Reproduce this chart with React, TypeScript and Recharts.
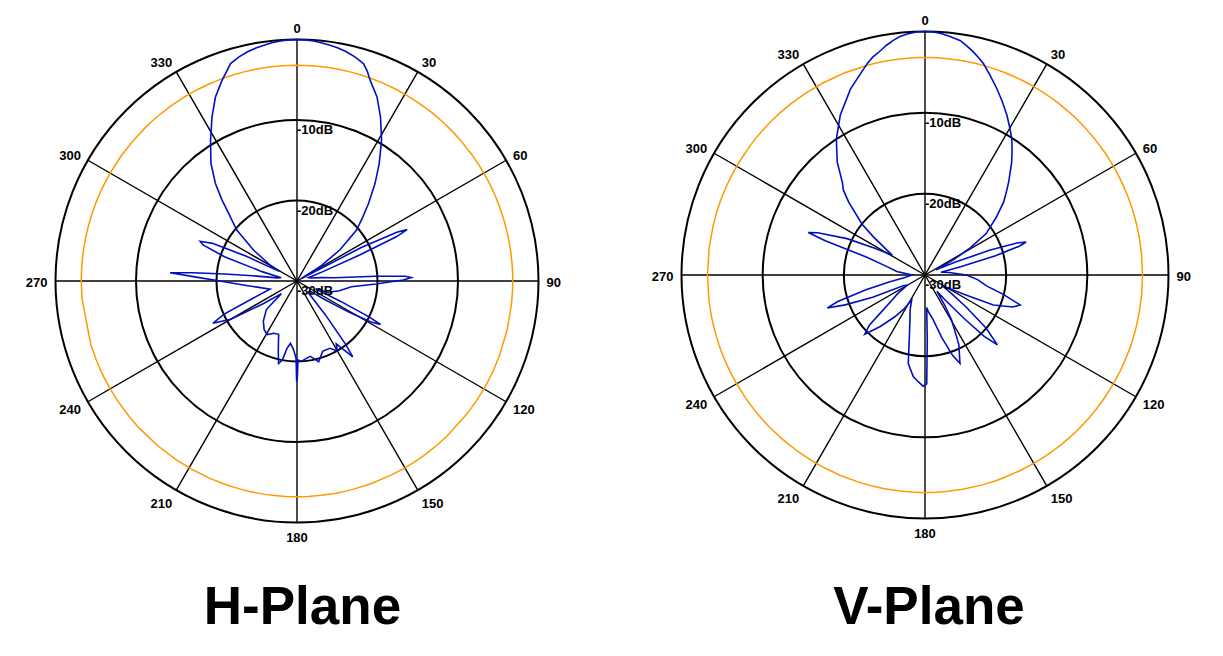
import React from 'react';
import { RadarChart, Radar, PolarGrid, PolarAngleAxis, PolarRadiusAxis } from 'recharts';

const angleTicks = [0, 30, 60, 90, 120, 150, 180, 210, 240, 270, 300, 330];
const radiusTicks = [-30, -20, -10, 0];
const halfPowerDb = -3.2;
const titles = ['H-Plane', 'V-Plane'];

const hAngles = [
  0, 2, 4, 6, 8, 10, 12, 14.5, 17, 18.5, 20, 23.5, 27, 31, 35, 38.7, 42.7, 46, 49.5, 54, 58, 60.5,
  62.5, 64, 65, 66, 67.5, 70, 74, 78,
  82, 85, 86.5, 87.5, 88.3, 89.5, 92.2, 96, 103, 110, 113,
  115, 116.5, 117.5, 119, 121, 124, 128,
  136, 140, 142.5, 143.7, 145.5, 148, 150, 154, 160, 165, 167.5, 170, 173.5, 177, 179.3, 179.8, 180.2, 180.7,
  183, 186, 188.5, 190.5, 192.6, 195, 199, 204, 209, 214, 220, 227, 231,
  236, 240, 243.3, 245.5, 248.5, 253, 265.4, 270, 272.3, 273.7, 274.5, 275.5, 277, 279, 281.5,
  285, 288.5, 291, 292.3, 294, 296, 298.5,
  300.7, 305.4, 310.2, 315.4, 317.2, 320.1, 323.8, 328.4, 332.6, 336.1, 339.5, 341.5, 343, 345.5, 347.7, 350, 352, 354, 356, 358,
];
const hGain = [
  0, -0.03, -0.12, -0.27, -0.43, -0.62, -0.85, -1.25, -1.75, -2.5, -3.45, -5.07, -7.15, -9.6, -12.2, -14.5, -16.9, -18.7, -20.3, -23.4, -26.6, -29.3,
  -21, -16.2, -14.9, -16.5, -21.5, -26.5, -28.5, -28.2,
  -27, -25.3, -20.2, -16.5, -15.8, -16.8, -20.2, -23.2, -24.6, -25.9, -27.5,
  -24, -20, -18.3, -19.5, -22.5, -26, -28,
  -28, -24.5, -20, -18.3, -19.5, -20.8, -20, -20.7, -20.7, -19.6, -20.1, -20.5, -20.3, -20, -20.2, -18, -17.5, -20.4,
  -21.5, -22.2, -21.5, -20, -19.5, -21, -23, -22.9, -22.4, -22.7, -23.5, -24.8, -27.5,
  -25, -20.5, -18.3, -20, -24, -26.5, -23.5, -20.4, -17.3, -14.2, -17, -21, -25, -27.5, -28,
  -25.5, -20.5, -17.5, -17, -18.5, -23, -27.5,
  -26.1, -23.4, -20.2, -17.6, -16.3, -14.2, -11.9, -9.5, -7.05, -5.0, -3.4, -2.5, -1.75, -1.25, -0.88, -0.62, -0.43, -0.25, -0.12, -0.03,
];

const vAngles = [
  0, 2, 4, 6, 8.6, 10, 12, 13.8, 15.5, 18, 21.1, 24, 27.2, 30, 32.5, 35, 37.6, 42, 44, 47.2, 51, 55.9, 59, 62, 64.5,
  67, 69, 70.8, 71.9, 73, 74.8, 77, 80,
  84, 90, 95, 100, 104, 107.5, 110, 113.7, 116, 119, 122,
  125, 128, 131, 134, 136, 138, 141, 144,
  147, 149.3, 154, 158.4, 161, 165, 170, 175, 177,
  178, 179.1, 181, 183.5, 186.6, 190.7, 194.3, 198, 203, 208,
  212, 216, 221, 225.5, 228, 229.6, 233, 236, 240,
  244, 247, 249.5, 251.3, 253, 256, 259, 263, 270, 277, 283, 287,
  289, 290, 291.5, 295, 298, 301,
  306.5, 309, 313.7, 316.1, 318.3, 322.1, 326.9, 332.1, 338.2, 344.7, 346.5, 348.5, 350.5, 352.4, 354, 356, 358,
];
const vGain = [
  0, -0.05, -0.2, -0.45, -0.8, -1.2, -1.8, -2.4, -3.0, -4.1, -5.4, -6.6, -7.9, -9.1, -10.1, -11.3, -12.5, -14.6, -15.5, -16.8, -18.7, -20.9, -23.5, -26.1, -28.5,
  -26, -21.5, -18, -16.9, -17.8, -21, -25.5, -28,
  -27, -24.9, -23.5, -22.3, -20, -17.7, -18.5, -20.8, -24.4, -26.5, -27.5,
  -26, -23.5, -20, -17.6, -19.5, -22.7, -26, -27.5,
  -25.5, -23.6, -20.5, -18.3, -19.5, -22, -24.5, -25.5, -26,
  -22, -16.6, -16.3, -16.8, -17.4, -18.9, -22.2, -24, -25.3, -26.5,
  -25, -23.6, -21.6, -19.6, -20.8, -22.8, -25, -26, -27.5,
  -27, -23, -19.5, -17.3, -18.7, -22.5, -25.5, -27.5, -28.4, -26.5, -25, -22.5,
  -17, -14.7, -15.8, -19.4, -23, -25.3,
  -22.1, -20, -17.0, -15.5, -14.7, -12.4, -10.0, -7.7, -5.3, -3.0, -2.4, -1.9, -1.3, -0.8, -0.45, -0.2, -0.05,
];

const FONT = '"Liberation Sans", Arial, Helvetica, sans-serif';

type Row = { angle: number; gain: number; ref: number };
function buildRows(angles: number[], gains: number[]): Row[] {
  return angles.map((a, i) => ({ angle: a, gain: gains[i], ref: halfPowerDb }));
}

const hRows = buildRows(hAngles, hGain);
const vRows = buildRows(vAngles, vGain);

type PlaneProps = { rows: Row[]; width: number; height: number; cx: number; cy: number; r: number };

function PlaneChart({ rows, width, height, cx, cy, r }: PlaneProps) {
  const AngleTick = (props: any) => {
    const { x, y, payload } = props;
    const dx = x - cx;
    const dy = y - cy;
    const len = Math.hypot(dx, dy) || 1;
    const ux = dx / len;
    const uy = dy / len;
    const px = cx + (r + 8) * ux;
    const py = cy + (r + 8) * uy;
    const anchor = ux > 0.05 ? 'start' : ux < -0.05 ? 'end' : 'middle';
    const baseline = py + uy * 5 + 4.7 + 1.5;
    return (
      <text x={px} y={baseline} textAnchor={anchor} fontSize={13} fontWeight="bold" fontFamily={FONT} fill="#000">
        {payload.value}
      </text>
    );
  };
  const RadiusTick = (props: any) => {
    const { x, y, payload } = props;
    if (payload.value === 0) return <g />;
    return (
      <text x={x} y={y + 14} textAnchor="start" fontSize={13} fontWeight="bold" fontFamily={FONT} fill="#000">
        {`${payload.value}dB`}
      </text>
    );
  };
  return (
    <RadarChart
      width={width}
      height={height}
      data={rows}
      cx={cx}
      cy={cy}
      outerRadius={r}
      startAngle={90}
      endAngle={-270}
      margin={{ top: 0, right: 0, bottom: 0, left: 0 }}
    >
      <PolarGrid gridType="circle" radialLines={false} stroke="#000" strokeWidth={2} strokeOpacity={1} />
      <PolarGrid gridType="circle" polarRadius={[]} stroke="#000" strokeWidth={1.4} strokeOpacity={1} />
      <PolarAngleAxis
        dataKey="angle"
        type="number"
        domain={[0, 360]}
        ticks={angleTicks}
        tick={AngleTick}
        tickLine={false}
        axisLine={false}
      />
      <PolarRadiusAxis
        angle={90}
        type="number"
        domain={[-30, 0]}
        ticks={radiusTicks}
        tickCount={4}
        tick={RadiusTick}
        tickLine={false}
        axisLine={false}
      />
      <Radar dataKey="ref" stroke="#ff9900" strokeWidth={1.5} fill="none" fillOpacity={0} dot={false} isAnimationActive={false} />
      <Radar dataKey="gain" stroke="#0010c0" strokeWidth={1.6} fill="none" fillOpacity={0} dot={false} isAnimationActive={false} />
    </RadarChart>
  );
}

export default function App() {
  return (
    <div style={{ position: 'absolute', left: 0, top: 0, width: 1223, height: 656, background: '#fff', overflow: 'hidden' }}>
      <div style={{ position: 'absolute', left: 0, top: 0 }}>
        <PlaneChart rows={hRows} width={611} height={560} cx={297} cy={281} r={241.5} />
      </div>
      <div style={{ position: 'absolute', left: 611, top: 0 }}>
        <PlaneChart rows={vRows} width={612} height={560} cx={314} cy={275} r={243.5} />
      </div>
      <svg style={{ position: 'absolute', left: 0, top: 560 }} width={1223} height={96}>
        <text x={302.5} y={64} textAnchor="middle" fontSize={53} fontWeight="bold" fontFamily={FONT} fill="#000">
          {titles[0]}
        </text>
        <text x={929} y={64} textAnchor="middle" fontSize={53} fontWeight="bold" fontFamily={FONT} fill="#000">
          {titles[1]}
        </text>
      </svg>
    </div>
  );
}
